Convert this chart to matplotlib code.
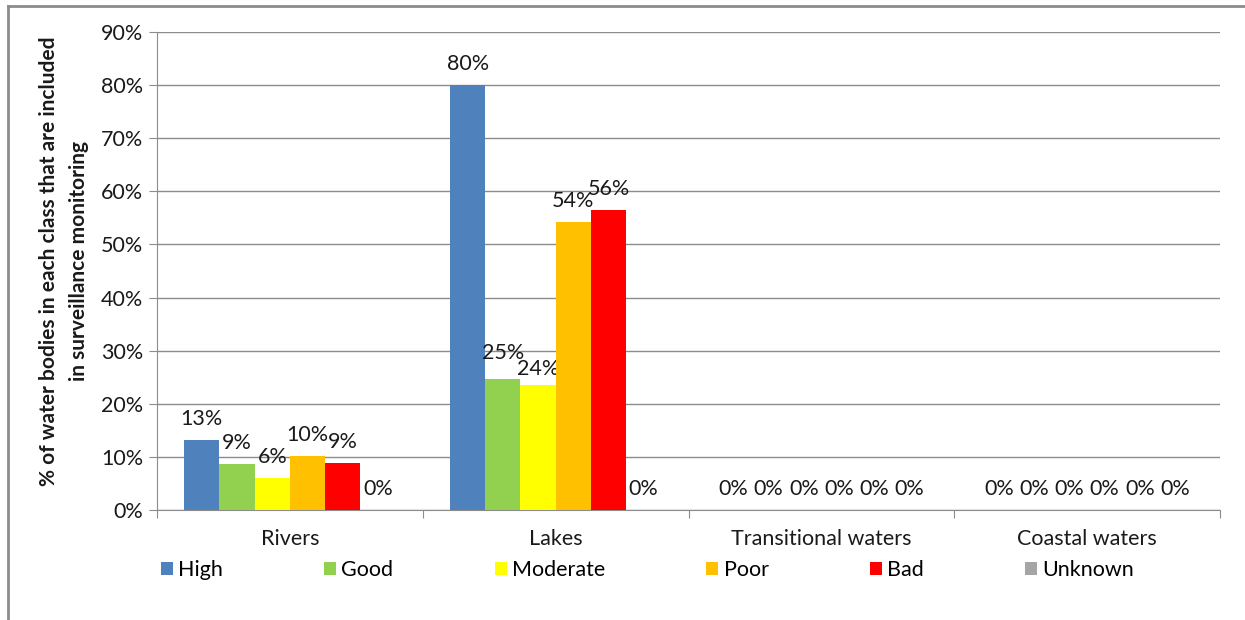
import numpy as np
import matplotlib
matplotlib.use('Agg')
import matplotlib.pyplot as plt
from matplotlib.lines import Line2D
from matplotlib.patches import Patch

plt.rcParams['font.family'] = ['Lato', 'DejaVu Sans']

# water categories and status classes
categories = ['Rivers', 'Lakes', 'Transitional waters', 'Coastal waters']
classes = ['High', 'Good', 'Moderate', 'Poor', 'Bad', 'Unknown']
class_colors = ['#4f81bd', '#92d050', '#ffff00', '#ffc000', '#ff0000', '#a5a5a5']

# % of water bodies per class included in surveillance monitoring
high = [13.2, 80.0, 0, 0]
good = [8.7, 24.6, 0, 0]
moderate = [6.0, 23.6, 0, 0]
poor = [10.2, 54.2, 0, 0]
bad = [8.9, 56.5, 0, 0]
unknown = [0, 0, 0, 0]
series = [high, good, moderate, poor, bad, unknown]

FS = 15.5
TXT = '#1a1a1a'

# nudge a couple of crowded labels apart (class index, category index) -> points
label_nudge = {(1, 1): 4, (2, 1): -4}

fig = plt.figure(figsize=(12.45, 6.2), dpi=100)
ax = fig.add_axes([157 / 1245, 110 / 620, 1063 / 1245, 478 / 620])

x = np.arange(len(categories))
bw = 0.1325
for i, (vals, col) in enumerate(zip(series, class_colors)):
    pos = x - 3 * bw + (i + 0.5) * bw
    ax.bar(pos, vals, width=bw, color=col, zorder=3, label=classes[i])
    for j, (p, v) in enumerate(zip(pos, vals)):
        dy = 8 + label_nudge.get((i, j), 0)
        ax.annotate(f'{round(v):.0f}%', (p, v), xytext=(0, dy), textcoords='offset points',
                    ha='center', va='bottom', fontsize=FS, color=TXT)

ax.set_xlim(-0.5, len(categories) - 0.5)
ax.set_ylim(0, 90)
ax.set_yticks(np.arange(0, 91, 10))
ax.set_yticklabels([f'{t}%' for t in range(0, 91, 10)], fontsize=FS, color=TXT)
ax.yaxis.grid(True, color='#8c8c8c', linewidth=1, zorder=0)
ax.tick_params(axis='y', length=6, color='#8c8c8c', pad=4)

# category labels between boundary ticks
ax.set_xticks(np.arange(-0.5, len(categories)))
ax.set_xticklabels([])
ax.set_xticks(x, minor=True)
ax.set_xticklabels(categories, minor=True, fontsize=FS, color=TXT)
ax.tick_params(axis='x', which='major', length=6, color='#8c8c8c')
ax.tick_params(axis='x', which='minor', length=0, pad=14)

for s in ['top', 'right']:
    ax.spines[s].set_visible(False)
for s in ['left', 'bottom']:
    ax.spines[s].set_color('#8c8c8c')

ax.set_ylabel('% of water bodies in each class that are included\nin surveillance monitoring',
              fontsize=15, fontweight='bold', color=TXT, linespacing=1.6)
ax.yaxis.set_label_coords(-0.064, 0.52)

handles = [Patch(facecolor=c, edgecolor='none') for c in class_colors]
fig.legend(handles, classes, loc='center left', bbox_to_anchor=(161 / 1245, 1 - 570 / 620),
           ncol=6, frameon=False, fontsize=FS, handlelength=0.55, handleheight=0.55,
           handletextpad=0.25, columnspacing=4.7, borderaxespad=0, borderpad=0)

# outer frame
fig.add_artist(Line2D([8 / 1245, 8 / 1245], [0, 1 - 6 / 620], color='#8c8c8c', linewidth=2))
fig.add_artist(Line2D([8 / 1245, 1], [1 - 6 / 620, 1 - 6 / 620], color='#8c8c8c', linewidth=2))

fig.savefig('out.png', dpi=100)
